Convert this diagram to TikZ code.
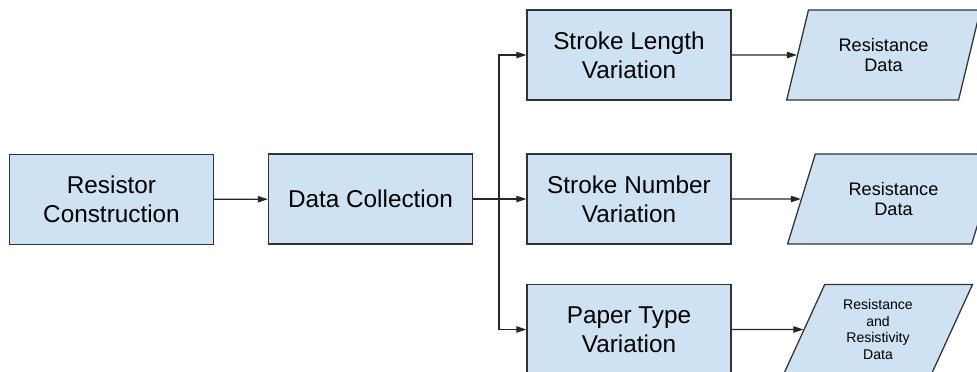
\documentclass[tikz,border=0pt]{standalone}
\usepackage{fontspec}
\setmainfont{Liberation Sans}
\usetikzlibrary{arrows.meta,shapes.geometric}
\definecolor{boxblue}{HTML}{CFE2F3}
\definecolor{edgegrey}{HTML}{333333}

\begin{document}
\begin{tikzpicture}[x=0.025cm, y=-0.025cm,
  procbox/.style={draw=edgegrey, line width=0.9pt, fill=boxblue, minimum width=5.1cm,
                  minimum height=2.25cm, align=center, inner sep=2pt,
                  font=\fontsize{17.3}{20.6}\selectfont},
  databox/.style={trapezium, trapezium stretches=true, draw=edgegrey, line width=0.9pt,
                  fill=boxblue, minimum height=2.25cm, align=center, inner sep=1pt},
  flow/.style={line width=0.8pt, black!85, -{Triangle[length=2.5mm,width=1.6mm]}}]

\useasboundingbox (0,0) rectangle (977,371);

%---------------- process boxes -----------------
\node[procbox] (rescon) at (111.5,199.5) {Resistor\\Construction};
\node[procbox] (datacol) at (370.5,199) {Data Collection};
\node[procbox] (strlen) at (629,55) {Stroke Length\\Variation};
\node[procbox] (strnum) at (629,199) {Stroke Number\\Variation};
\node[procbox] (paper) at (629,329.5) {Paper Type\\Variation};

%---------------- data outputs -----------------
\node[databox, minimum width=4.875cm, trapezium left angle=70, trapezium right angle=110,
      font=\fontsize{12.9}{14.8}\selectfont] (dlen) at (883.5,55) {Resistance\\Data};
\node[databox, minimum width=5.3cm, trapezium left angle=66, trapezium right angle=114,
      font=\fontsize{12.9}{14.8}\selectfont] (dnum) at (893.5,199) {Resistance\\Data};
\node[databox, minimum width=4.75cm, trapezium left angle=66, trapezium right angle=114,
      font=\fontsize{10}{11.8}\selectfont] (dpaper) at (878,329.5)
      {Resistance\\and\\Resistivity\\Data};

%---------------- connectors -----------------
\coordinate (split) at (499,199);
\draw[flow] (rescon) -- (datacol);
\draw[flow] (datacol) -- (strnum);
\draw[flow] (datacol.east) -- (split) |- (strlen.west);
\draw[flow] (split) |- (paper.west);
\draw[flow] (strlen) -- (dlen);
\draw[flow] (strnum) -- (dnum);
\draw[flow] (paper) -- (dpaper);

\end{tikzpicture}
\end{document}
